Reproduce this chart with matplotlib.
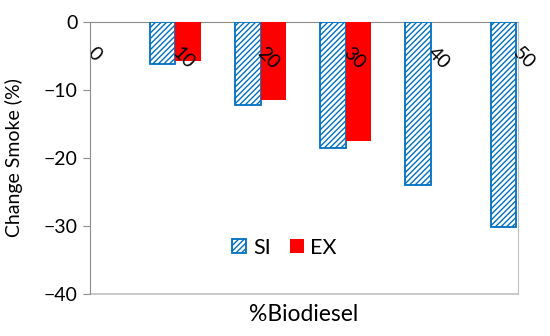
import numpy as np
import matplotlib.pyplot as plt
from matplotlib.patches import Patch

plt.rcParams['font.family'] = ['Lato', 'DejaVu Sans']
plt.rcParams['hatch.linewidth'] = 1.0

# datos
biodiesel = [0, 10, 20, 30, 40, 50]
si = [0, -6.2, -12.2, -18.5, -23.9, -30.1]
ex = [0, -5.7, -11.4, -17.5, np.nan, np.nan]
ticks_y = [0, -10, -20, -30, -40]

azul = '#0070C0'
rojo = '#FF0000'
gris = '#8C8C8C'
gris_claro = '#C0C0C0'
rayado = '//////'

fig, ax = plt.subplots(figsize=(5.5, 3.36), dpi=100)
fig.subplots_adjust(left=0.1636, right=0.9418, top=0.9345, bottom=0.125)

x = np.array(biodiesel, dtype=float)
ax.bar(x - 1.5, si, width=3, color='white', edgecolor=azul, hatch=rayado,
       linewidth=1.3, label='SI')
ax.bar(x + 1.5, ex, width=3, color=rojo, linewidth=0, label='EX')

ax.set_xlim(0, 50.2)
ax.set_ylim(-40, 0)
ax.set_yticks(ticks_y)
ax.set_xticks(biodiesel)
ax.set_xticklabels([str(b) for b in biodiesel])

# eje horizontal en y=0, borde inferior del area de grafico
ax.spines['bottom'].set_position(('data', 0))
ax.spines['bottom'].set_color(gris)
ax.spines['bottom'].set_zorder(0)
ax.spines['left'].set_color(gris)
ax.spines['top'].set_visible(False)
ax.spines['right'].set_color(gris_claro)
ax.axhline(-40, color=gris_claro, linewidth=1.2, clip_on=False)

ax.tick_params(axis='x', length=0, pad=20, labelsize=14)
ax.tick_params(axis='y', length=5, color=gris, labelsize=14, pad=4)
plt.setp(ax.get_xticklabels(), rotation=-45, ha='left', va='center',
         rotation_mode='anchor')

ax.set_ylabel('Change Smoke (%)', fontsize=14)
ax.yaxis.set_label_coords(-0.157, 0.5)
ax.set_xlabel('%Biodiesel', fontsize=16.5, va='top')
ax.xaxis.set_label_coords(0.5, -0.035)

handles = [Patch(facecolor='white', edgecolor=azul, hatch=rayado, linewidth=1.3, label='SI'),
           Patch(facecolor=rojo, label='EX')]
ax.legend(handles=handles, ncol=2, frameon=False, fontsize=15.5,
          loc='center', bbox_to_anchor=(0.455, 0.17),
          handlelength=0.65, handleheight=0.65, handletextpad=0.3,
          columnspacing=0.9)

fig.savefig('out.png', dpi=100)
